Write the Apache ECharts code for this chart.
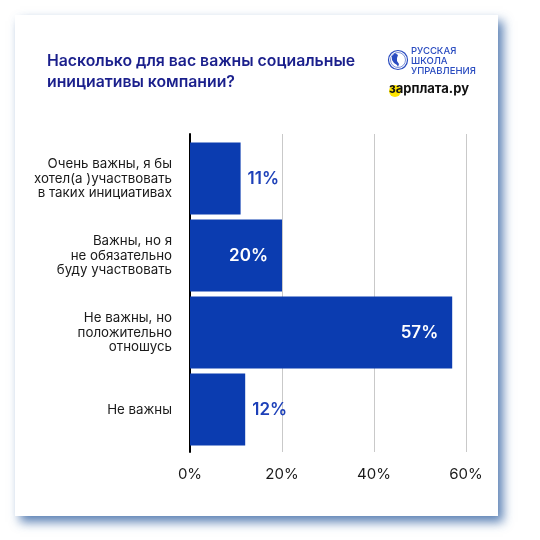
<!DOCTYPE html>
<html>
<head>
<meta charset="utf-8">
<script src="https://cdn.jsdelivr.net/npm/echarts@6/dist/echarts.min.js"></script>
<style>
  html, body { margin: 0; padding: 0; background: #ffffff; }
  #chart { width: 540px; height: 540px; }
</style>
</head>
<body>
<div id="chart"></div>
<script>
// Survey answers (top to bottom) and share of respondents, %
const categories = [
  'Очень важны, я бы\nхотел(а )участвовать\nв таких инициативах',
  'Важны, но я\nне обязательно\nбуду участвовать',
  'Не важны, но\nположительно\nотношусь',
  'Не важны'
];
const shares = [11, 20, 57, 12];
const xTicks = [0, 20, 40, 60];

const titleText = 'Насколько для вас важны социальные\nинициативы компании?';
const FONT = 'Inter, "Noto Sans", sans-serif';
const BAR = '#0b3cb0';

const chart = echarts.init(document.getElementById('chart'), null, { renderer: 'canvas' });

const xMin = xTicks[0], xMax = xTicks[xTicks.length - 1], xStep = xTicks[1] - xTicks[0];

const option = {
  animation: false,
  backgroundColor: '#ffffff',
  graphic: [
    // card with a soft blue drop shadow
    {
      type: 'rect', z: -10, silent: true,
      shape: { x: 15, y: 15, width: 483, height: 501 },
      style: {
        fill: '#ffffff',
        shadowBlur: 10, shadowOffsetX: 5, shadowOffsetY: 6,
        shadowColor: 'rgba(35, 85, 155, 0.75)'
      }
    },
    {
      type: 'text', x: 47, y: 51, silent: true,
      style: {
        text: titleText, fill: '#1a1f8c',
        font: '600 15.8px ' + FONT, lineHeight: 21
      }
    },
    // school emblem
    {
      type: 'circle', silent: true, shape: { cx: 398, cy: 60, r: 9.5 },
      style: { fill: 'none', stroke: '#2a4cc0', lineWidth: 1.2 }
    },
    {
      type: 'circle', silent: true, shape: { cx: 398, cy: 60, r: 7.5 },
      style: { fill: 'none', stroke: '#2a4cc0', lineWidth: 0.6 }
    },
    {
      type: 'polygon', silent: true,
      shape: { points: [[395, 53], [392, 56], [392, 60], [394, 63], [397, 65], [398, 67], [399, 64], [397, 61], [397, 58], [398, 55]] },
      style: { fill: '#2a4cc0' }
    },
    {
      type: 'text', x: 411, y: 46, silent: true,
      style: {
        text: 'РУССКАЯ\nШКОЛА\nУПРАВЛЕНИЯ', fill: '#2a4cc0',
        font: '500 9.5px ' + FONT, lineHeight: 10
      }
    },
    // job-site logo
    {
      type: 'circle', silent: true,
      shape: { cx: 395, cy: 91, r: 6 },
      style: { fill: '#ffe500' }
    },
    {
      type: 'text', x: 389, y: 83, silent: true,
      style: { text: 'зарплата.ру', fill: '#111111', font: '700 13px ' + FONT }
    }
  ],
  grid: [
    // frame for axis line, gridlines and tick labels
    { left: 190, right: 74, top: 134, bottom: 88 },
    // frame for the bars
    { left: 190, right: 74, top: 140, bottom: 92 }
  ],
  xAxis: [
    {
      gridIndex: 0, type: 'value', min: xMin, max: xMax, interval: xStep,
      axisLine: { show: false }, axisTick: { show: false },
      splitLine: { show: true, lineStyle: { color: '#c9c9c9', width: 1 } },
      axisLabel: {
        margin: 15, color: '#1a1a1a', fontSize: 15, fontFamily: FONT,
        formatter: v => v + '%',
        showMinLabel: true, showMaxLabel: true
      }
    },
    {
      gridIndex: 1, type: 'value', min: xMin, max: xMax, interval: xStep,
      show: false
    }
  ],
  yAxis: [
    {
      gridIndex: 0, type: 'category', data: categories, inverse: true,
      axisLine: { show: true, lineStyle: { color: '#000000', width: 2 } },
      axisTick: { show: false }, axisLabel: { show: false },
      splitLine: { show: false }
    },
    {
      gridIndex: 1, type: 'category', data: categories, inverse: true,
      axisLine: { show: false }, axisTick: { show: false },
      axisLabel: {
        margin: 18, align: 'right', color: '#1a1a1a',
        fontSize: 13.3, lineHeight: 14.5, fontFamily: FONT
      }
    }
  ],
  series: [
    {
      type: 'bar', xAxisIndex: 1, yAxisIndex: 1,
      barCategoryGap: '6.5%',
      itemStyle: { color: BAR },
      data: shares.map(v => {
        const inside = v >= 15;
        return {
          value: v,
          label: {
            show: true,
            position: inside ? 'insideRight' : 'right',
            distance: inside ? 14 : 7,
            formatter: '{c}%',
            color: inside ? '#ffffff' : '#1d40b8',
            fontSize: 17, fontWeight: 600, fontFamily: FONT
          }
        };
      })
    }
  ]
};

chart.setOption(option);
</script>
</body>
</html>
